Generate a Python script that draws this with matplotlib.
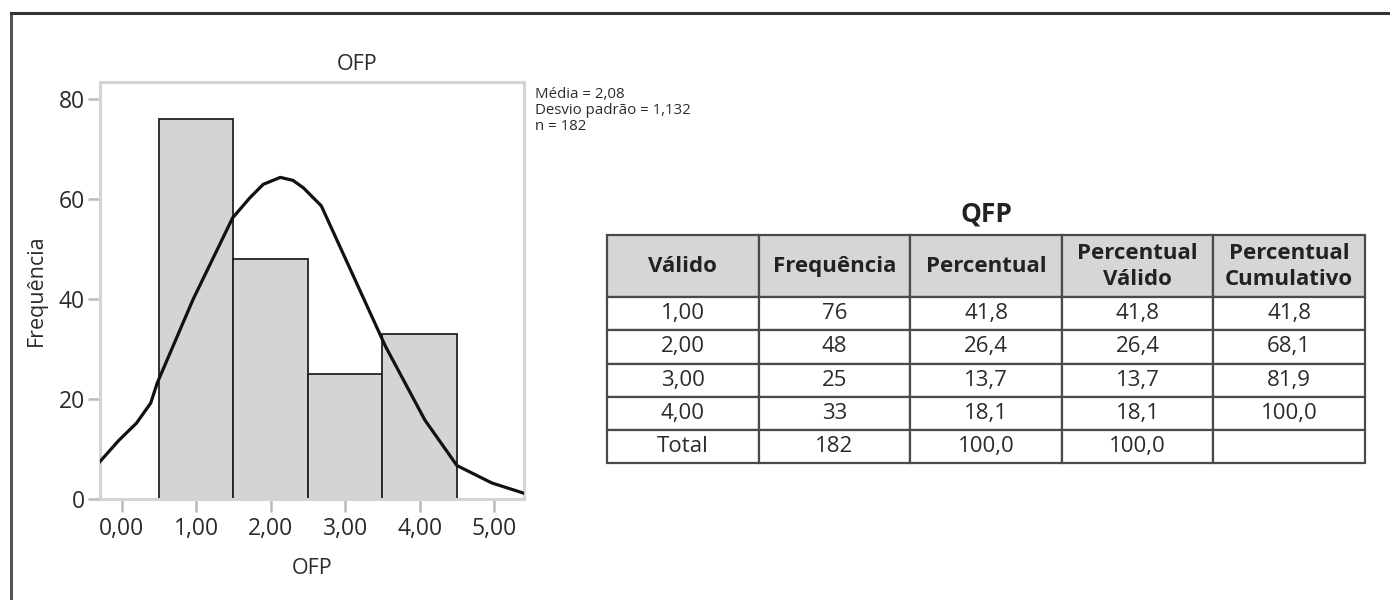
import matplotlib
matplotlib.use('Agg')
import matplotlib.pyplot as plt
from matplotlib.lines import Line2D
import numpy as np

plt.rcParams['font.family'] = ['Open Sans', 'DejaVu Sans']

# histogram data
bin_centers = [1.0, 2.0, 3.0, 4.0]
frequencies = [76, 48, 25, 33]

# fitted normal curve
curve_x = [-0.29, -0.04, 0.20, 0.39, 0.48, 0.96, 1.49, 1.72, 1.90, 2.13, 2.30, 2.44, 2.68,
           3.54, 4.07, 4.50, 4.97, 5.39]
curve_y = [7.5, 11.7, 15.2, 19.2, 23.3, 40.0, 56.3, 60.3, 63.0, 64.4, 63.8, 62.3, 58.7,
           30.6, 15.8, 6.7, 3.2, 1.2]

x_ticks = [0, 1, 2, 3, 4, 5]
x_tick_labels = ['0,00', '1,00', '2,00', '3,00', '4,00', '5,00']
y_ticks = [0, 20, 40, 60, 80]

stats_lines = ['Média = 2,08', 'Desvio padrão = 1,132', 'n = 182']

# table data
table_title = 'QFP'
col_labels = ['Válido', 'Frequência', 'Percentual', 'Percentual\nVálido', 'Percentual\nCumulativo']
row_valid = ['1,00', '2,00', '3,00', '4,00', 'Total']
row_freq = ['76', '48', '25', '33', '182']
row_pct = ['41,8', '26,4', '13,7', '18,1', '100,0']
row_valid_pct = ['41,8', '26,4', '13,7', '18,1', '100,0']
row_cum_pct = ['41,8', '68,1', '81,9', '100,0', '']

text_col = '#2b2b2b'

fig = plt.figure(figsize=(13.9, 6), dpi=100)

# outer frame (left and top only)
fig.add_artist(Line2D([11 / 1390, 11 / 1390], [0, 1 - 13 / 600], color='#555555', lw=2.2))
fig.add_artist(Line2D([11 / 1390, 1], [1 - 13 / 600, 1 - 13 / 600], color='#333333', lw=2.2))

# histogram
ax = fig.add_axes([100 / 1390, 1 - 499 / 600, 424 / 1390, 417 / 600])
ax.bar(bin_centers, frequencies, width=1.0, color='#d3d4d6', edgecolor='#222222', linewidth=1.3, zorder=2)
ax.plot(curve_x, curve_y, color='#111111', lw=2.3, zorder=3, solid_joinstyle='round')
ax.set_xlim(-0.29, 5.40)
ax.set_ylim(0, 83.5)
ax.set_xticks(x_ticks)
ax.set_xticklabels(x_tick_labels)
ax.set_yticks(y_ticks)
for s in ax.spines.values():
    s.set_color('#d4d4d4')
    s.set_linewidth(2.2)
ax.tick_params(axis='both', length=9, width=1.8, color='#bbbbbb', labelsize=16.5,
               labelcolor=text_col)
ax.tick_params(axis='y', pad=2)
ax.tick_params(axis='x', pad=4)
ax.set_xlabel('OFP', fontsize=15.5, color=text_col, labelpad=12)
ax.set_ylabel('Frequência', fontsize=15.5, color=text_col, labelpad=8)
fig.text(357 / 1390, 1 - 65 / 600, 'OFP', ha='center', va='center', fontsize=15.5, color=text_col)

for i, line in enumerate(stats_lines):
    fig.text(535 / 1390, 1 - (94 + 16.5 * i) / 600, line, ha='left', va='center',
             fontsize=10.8, color=text_col)

# frequency table
fig.text(986 / 1390, 1 - 214 / 600, table_title, ha='center', va='center', fontsize=19,
         fontweight='bold', color='#222222')
tax = fig.add_axes([607 / 1390, 1 - 463 / 600, 758 / 1390, 228 / 600])
tax.axis('off')
cell_text = [list(r) for r in zip(row_valid, row_freq, row_pct, row_valid_pct, row_cum_pct)]
tbl = tax.table(cellText=cell_text, colLabels=col_labels, cellLoc='center', bbox=[0, 0, 1, 1])
tbl.auto_set_font_size(False)
for (r, c), cell in tbl.get_celld().items():
    cell.set_edgecolor('#4a4a4a')
    cell.set_linewidth(1.6)
    if r == 0:
        cell.set_height(62)
        cell.set_facecolor('#d6d6d6')
        cell.get_text().set_fontweight('bold')
        cell.get_text().set_fontsize(16)
        cell.get_text().set_color('#222222')
        cell.get_text().set_linespacing(1.3)
    else:
        cell.set_height(33)
        cell.set_facecolor('white')
        cell.get_text().set_fontsize(16)
        cell.get_text().set_color(text_col)

fig.savefig('out.png', dpi=100, facecolor='white')
